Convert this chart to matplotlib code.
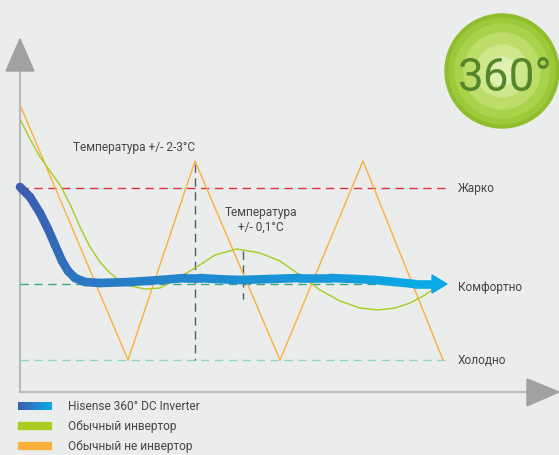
import numpy as np
import matplotlib.pyplot as plt
from matplotlib.collections import LineCollection
from matplotlib.patches import Polygon, Circle
from matplotlib.colors import LinearSegmentedColormap

plt.rcParams['font.family'] = ['Roboto', 'DejaVu Sans']

# chart data, in picture units (x to the right, y downward)
levels = {'Жарко': 189, 'Комфортно': 285, 'Холодно': 361}
level_colors = ['#e0303a', '#3aa57f', '#8fd6bf']

orange_x = [21, 128, 195, 280, 363, 443]
orange_y = [108, 361, 162, 361, 162, 361]

green_x = [21, 30, 40, 50, 60, 70, 80, 90, 100, 110, 120, 130, 145, 160, 175, 195,
           215, 237, 260, 280, 300, 320, 340, 360, 378, 395, 410, 425, 437]
green_y = [122, 140, 158, 172, 186, 205, 228, 248, 263, 274, 282, 287, 290, 289, 281, 269,
           256, 250, 254, 262, 276, 291, 302, 309, 311, 309, 304, 296, 287]

blue_x = [20, 30, 40, 48, 55, 62, 68, 75, 85, 100, 130, 160, 185, 200, 215, 240,
          270, 300, 330, 355, 375, 395, 415, 434]
blue_y = [188, 198, 214, 230, 246, 262, 272, 279, 283, 284, 283, 281, 279, 279, 280, 281,
          280, 279, 279, 280, 281, 283, 285, 285]

legend_labels = ['Hisense 360° DC Inverter', 'Обычный инвертор', 'Обычный не инвертор']

bg = '#ebeded'
txt = '#454545'
fs = 8.6
blue_cmap = LinearSegmentedColormap.from_list('b', ['#3c5db0', '#0ba9e6'])

fig = plt.figure(figsize=(5.59, 4.56), dpi=100, facecolor=bg)
ax = fig.add_axes([0, 0, 1, 1])
ax.set_facecolor(bg)
ax.axis('off')

# axes arrows
ax.plot([20, 20], [70, 393], color='#b9bbbb', lw=1.6, zorder=1)
ax.plot([20, 530], [393, 393], color='#b9bbbb', lw=1.6, zorder=1)
ax.add_patch(Polygon([[6, 72], [34, 72], [20, 40]], closed=True, color='#a0a1a1', zorder=2))
ax.add_patch(Polygon([[527, 380], [527, 407], [559, 393]], closed=True, color='#a0a1a1', zorder=2))

# level lines and labels
for (name, y), c in zip(levels.items(), level_colors):
    ax.plot([20, 450], [y, y], color=c, lw=1.0, dashes=(6, 4), zorder=2)
    ax.text(458, y + (3 if name == 'Комфортно' else 0), name, fontsize=fs,
            color=txt, va='center', ha='left')

# vertical markers
ax.plot([195, 195], [165, 361], color='#555a5c', lw=1.0, dashes=(6, 4), zorder=2)
ax.plot([243, 243], [252, 300], color='#555a5c', lw=1.0, dashes=(6, 4), zorder=2)

ax.plot(orange_x, orange_y, color='#fbb03b', lw=1.0, zorder=3)
ax.plot(green_x, green_y, color='#aacb1f', lw=1.0, zorder=3)

# blue gradient line
pts = np.column_stack([blue_x, blue_y])
segs = np.stack([pts[:-1], pts[1:]], axis=1)
lc = LineCollection(segs, cmap=blue_cmap, linewidths=6.2, capstyle='round', joinstyle='round', zorder=4)
lc.set_array(np.linspace(0, 1, len(segs)))
ax.add_collection(lc)
ax.add_patch(Polygon([[432, 276], [432, 294], [447, 285]], closed=True,
                     color=blue_cmap(1.0), zorder=4))

# annotations
ax.text(73, 148, 'Температура +/- 2-3°C', fontsize=fs, color=txt, va='center')
ax.text(261, 220, 'Температура\n+/- 0,1°C', fontsize=fs, color=txt,
        va='center', ha='center', linespacing=1.25)

# legend
grad = np.linspace(0, 1, 100).reshape(1, -1)
ax.imshow(grad, cmap=blue_cmap, extent=[18, 52, 411, 403], aspect='auto', zorder=3)
ax.add_patch(plt.Rectangle((18, 423), 33, 7, color='#aacb1f'))
ax.add_patch(plt.Rectangle((18, 443), 33, 7, color='#fbb03b'))
for i, lab in enumerate(legend_labels):
    ax.text(68, 407 + 20 * i, lab, fontsize=fs, color=txt, va='center')

# 360 badge
for r, c in zip([57, 53, 47, 38, 26, 14], ['#8fbd2c', '#9bc93a', '#aad34c', '#bcdd68', '#cde78a', '#e0f0b2']):
    ax.add_patch(Circle((502, 72), r, color=c, zorder=5))
ax.text(505, 78, '360°', fontsize=33, color='#55852a', ha='center', va='center', zorder=6)

ax.set_xlim(0, 559)
ax.set_ylim(456, 0)
fig.savefig('out.png', dpi=100, facecolor=bg)
